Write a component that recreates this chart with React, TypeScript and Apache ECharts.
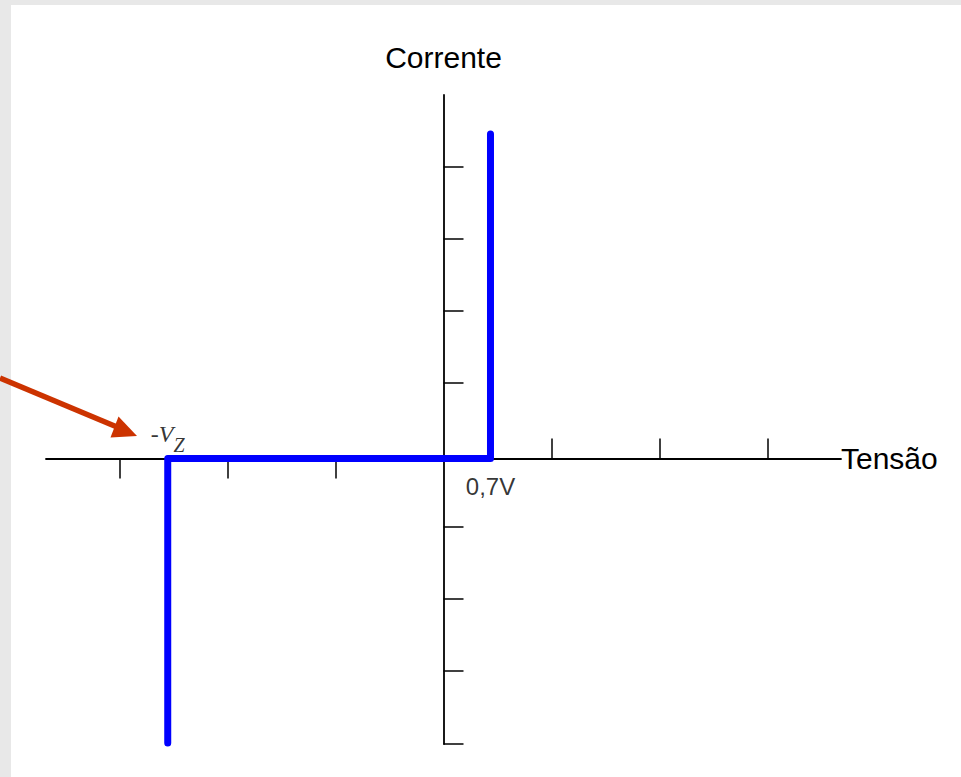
import React, { useEffect, useRef } from "react";
import * as echarts from "echarts";

// Axis ranges (in chart units)
const X_MIN = -3.68;
const X_MAX = 3.68;
const Y_MIN = -3.965;
const Y_MAX = 5.05;

// Tick positions
const X_TICKS_UP = [1, 2, 3];
const X_TICKS_DOWN = [-3, -2, -1];
const Y_TICKS = [4.05, 3.05, 2.05, 1.05, -0.95, -1.95, -2.95, -3.965];

// Characteristic points
const V_ZENER = -2.553;
const V_FORWARD = 0.435;
const LABEL_ZENER = "{v|-V}{z|Z}";
const LABEL_FORWARD = "0,7V";

// Diode curve
const curveX = [V_ZENER, V_ZENER, V_FORWARD, V_FORWARD];
const curveY = [-3.95, 0, 0, 4.51];

const X_NAME = "Tensão";
const Y_NAME = "Corrente";

const SANS = "'Liberation Sans', Arial, Helvetica, sans-serif";
const SERIF = "'Liberation Serif', 'Times New Roman', serif";

export default function App() {
  const ref = useRef<HTMLDivElement>(null);

  useEffect(() => {
    if (!ref.current) return;
    const chart = echarts.init(ref.current, undefined, { renderer: "svg" });
    const axisLineStyle = { color: "#000", width: 1.8 };
    const tickStyle = { color: "#000", width: 1.5 };
    chart.setOption({
      animation: false,
      backgroundColor: "transparent",
      grid: {
        left: 46,
        right: 120,
        top: 95,
        bottom: 33,
        containLabel: false,
        outerBoundsMode: "none",
      },
      xAxis: [
        {
          type: "value",
          position: "bottom",
          min: X_MIN,
          max: X_MAX,
          splitLine: { show: false },
          axisLine: { show: true, onZero: true, lineStyle: axisLineStyle },
          axisTick: {
            show: true,
            inside: true,
            length: 20,
            customValues: X_TICKS_UP,
            lineStyle: tickStyle,
          },
          axisLabel: { show: false },
          name: X_NAME,
          nameLocation: "end",
          nameGap: 0,
          nameTextStyle: {
            fontFamily: SANS,
            fontSize: 30,
            color: "#000",
            padding: [5, 0, 0, 0],
          },
        },
        {
          type: "value",
          position: "bottom",
          min: X_MIN,
          max: X_MAX,
          splitLine: { show: false },
          axisLine: { show: false, onZero: true, onZeroAxisIndex: 0, lineStyle: axisLineStyle },
          axisTick: {
            show: true,
            inside: false,
            length: 20,
            customValues: X_TICKS_DOWN,
            lineStyle: tickStyle,
          },
          axisLabel: { show: false },
        },
      ],
      yAxis: {
        type: "value",
        min: Y_MIN,
        max: Y_MAX,
        splitLine: { show: false },
        axisLine: { show: true, onZero: true, lineStyle: axisLineStyle },
        axisTick: {
          show: true,
          inside: true,
          length: 20,
          customValues: Y_TICKS,
          lineStyle: tickStyle,
        },
        axisLabel: { show: false },
        name: Y_NAME,
        nameLocation: "end",
        nameGap: 23,
        nameTextStyle: { fontFamily: SANS, fontSize: 30, color: "#000" },
      },
      graphic: [
        {
          type: "line",
          shape: { x1: 0, y1: 378, x2: 117, y2: 427 },
          style: { stroke: "#cc3300", lineWidth: 5.5 },
          z: 10,
        },
        {
          type: "polygon",
          shape: { points: [[137, 436], [110.5, 437.5], [118.5, 416.5]] },
          style: { fill: "#cc3300" },
          z: 10,
        },
      ],
      series: [
        {
          type: "line",
          xAxisIndex: 0,
          yAxisIndex: 0,
          data: curveX.map((x, i) => [x, curveY[i]]),
          symbol: "none",
          clip: false,
          lineStyle: { color: "#0000ff", width: 7, cap: "round", join: "round" },
          z: 5,
        },
        {
          type: "scatter",
          xAxisIndex: 0,
          yAxisIndex: 0,
          symbol: "rect",
          symbolSize: 1,
          itemStyle: { color: "rgba(0,0,0,0)" },
          silent: true,
          z: 6,
          data: [
            {
              value: [V_ZENER, 0],
              label: {
                show: true,
                position: "top",
                distance: 12,
                formatter: LABEL_ZENER,
                rich: {
                  v: {
                    fontFamily: SERIF,
                    fontStyle: "italic",
                    fontSize: 24,
                    lineHeight: 24,
                    color: "#000",
                    verticalAlign: "top",
                  },
                  z: {
                    fontFamily: SERIF,
                    fontStyle: "italic",
                    fontSize: 20,
                    lineHeight: 20,
                    color: "#000",
                    padding: [13.4, 0, 0, 0],
                    verticalAlign: "top",
                  },
                },
              },
            },
            {
              value: [V_FORWARD, 0],
              label: {
                show: true,
                position: "bottom",
                distance: 15.5,
                formatter: LABEL_FORWARD,
                fontFamily: SANS,
                fontSize: 24,
                lineHeight: 24,
                color: "#000",
              },
            },
          ],
        },
      ],
    });
    return () => chart.dispose();
  }, []);

  return (
    <div
      style={{
        position: "fixed",
        left: 0,
        top: 0,
        width: 961,
        height: 777,
        background: "#e8e8e8",
        overflow: "hidden",
      }}
    >
      <div
        style={{
          position: "absolute",
          left: 11,
          top: 5,
          right: 0,
          bottom: 0,
          background: "#ffffff",
        }}
      />
      <div
        ref={ref}
        style={{ position: "absolute", left: 0, top: 0, width: 961, height: 777 }}
      />
    </div>
  );
}
